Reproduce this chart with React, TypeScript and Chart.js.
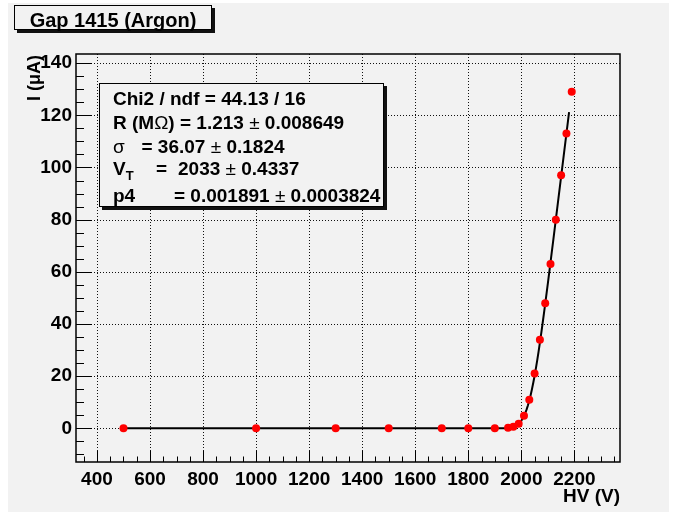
import React, { useEffect, useRef } from 'react';
import { Chart, registerables } from 'chart.js';

Chart.register(...registerables);

// Measured points: high voltage (V) and current (µA)
const hvVolts = [500, 1000, 1300, 1500, 1700, 1800, 1900, 1950, 1970, 1990, 2010, 2030, 2050, 2070, 2090, 2110, 2130, 2150, 2170, 2190];
const currentMicroAmp = [0, 0, 0, 0, 0, 0, 0, 0.2, 0.6, 1.8, 4.8, 11, 21, 34, 48, 63, 80, 97, 113, 129];

// Fit result (gaussian-smeared ohmic turn-on)
const fitR = 1.213; // MΩ
const fitSigma = 36.07;
const fitVT = 2033;
const fitP4 = 0.001891;
const fitRangeVolts = [500, 2180];
const fitStepVolts = 5;

// Stats box text
const statChi2 = '44.13';
const statNdf = '16';
const statR = ['1.213', '0.008649'];
const statSigma = ['36.07', '0.1824'];
const statVT = ['2033', '0.4337'];
const statP4 = ['0.001891', '0.0003824'];

// Axes
const xRange = [321, 2372];
const yRange = [-12.9, 143.5];
const xMajorTicks = [400, 600, 800, 1000, 1200, 1400, 1600, 1800, 2000, 2200];
const yMajorTicks = [0, 20, 40, 60, 80, 100, 120, 140];
const xMinorTicks = [350, 450, 500, 550, 650, 700, 750, 850, 900, 950, 1050, 1100, 1150, 1250, 1300, 1350, 1450, 1500, 1550, 1650, 1700, 1750, 1850, 1900, 1950, 2050, 2100, 2150, 2250, 2300, 2350];
const yMinorTicks = [-10, -5, 5, 10, 15, 25, 30, 35, 45, 50, 55, 65, 70, 75, 85, 90, 95, 105, 110, 115, 125, 130, 135];

const titleText = 'Gap 1415 (Argon)';
const xTitle = 'HV (V)';
const yTitle = 'I (\u03bcA)';

const FONT = '"Liberation Sans", Arial, Helvetica, sans-serif';
const BG = '#f2f2f2';

function erf(x: number): number {
  const s = x < 0 ? -1 : 1;
  const a = Math.abs(x);
  const t = 1 / (1 + 0.3275911 * a);
  const y = 1 - (((((1.061405429 * t - 1.453152027) * t) + 1.421413741) * t - 0.284496736) * t + 0.254829592) * t * Math.exp(-a * a);
  return s * y;
}

function fitCurrent(v: number): number {
  const d = v - fitVT;
  const z = d / fitSigma;
  const cdf = 0.5 * (1 + erf(z / Math.SQRT2));
  const pdf = Math.exp(-0.5 * z * z) / Math.sqrt(2 * Math.PI);
  return fitP4 + (d * cdf + fitSigma * pdf) / fitR;
}

function fitPoints() {
  const pts: { x: number; y: number }[] = [];
  for (let v = fitRangeVolts[0]; v <= fitRangeVolts[1] + 1e-9; v += fitStepVolts) {
    pts.push({ x: v, y: fitCurrent(v) });
  }
  return pts;
}

type Run = { t: string; bold?: boolean; size?: number; dy?: number };

function drawRuns(ctx: CanvasRenderingContext2D, x: number, y: number, runs: Run[], size: number) {
  let cx = x;
  for (const r of runs) {
    const sz = r.size ?? size;
    ctx.font = `${r.bold === false ? 'normal' : 'bold'} ${sz}px ${FONT}`;
    ctx.fillText(r.t, cx, y + (r.dy ?? 0));
    cx += ctx.measureText(r.t).width;
  }
}

function boxWithShadow(ctx: CanvasRenderingContext2D, x: number, y: number, w: number, h: number, sh: number) {
  ctx.fillStyle = '#111';
  ctx.fillRect(x + sh, y + sh, w, h);
  ctx.fillStyle = BG;
  ctx.fillRect(x, y, w, h);
  ctx.strokeStyle = '#000';
  ctx.lineWidth = 1;
  ctx.strokeRect(x + 0.5, y + 0.5, w - 1, h - 1);
}

const backgroundPlugin = {
  id: 'padBackground',
  beforeDraw(chart: any) {
    const ctx = chart.ctx as CanvasRenderingContext2D;
    ctx.save();
    ctx.fillStyle = '#ffffff';
    ctx.fillRect(0, 0, chart.width, chart.height);
    ctx.fillStyle = BG;
    ctx.fillRect(8, 3, 661, chart.height - 3);
    ctx.restore();
  },
};

const framePlugin = {
  id: 'frameAndTicks',
  beforeDatasetsDraw(chart: any) {
    const ctx = chart.ctx as CanvasRenderingContext2D;
    const { left, right, top, bottom } = chart.chartArea;
    const xs = chart.scales.x;
    const ys = chart.scales.y;
    ctx.save();
    // dotted grid
    ctx.strokeStyle = '#111';
    ctx.lineWidth = 1;
    ctx.setLineDash([1, 2]);
    for (const v of xMajorTicks) {
      const px = Math.round(xs.getPixelForValue(v)) + 0.5;
      ctx.beginPath();
      ctx.moveTo(px, top);
      ctx.lineTo(px, bottom);
      ctx.stroke();
    }
    for (const v of yMajorTicks) {
      const py = Math.round(ys.getPixelForValue(v)) + 0.5;
      ctx.beginPath();
      ctx.moveTo(left, py);
      ctx.lineTo(right, py);
      ctx.stroke();
    }
    ctx.setLineDash([]);
    // tick marks
    ctx.strokeStyle = '#000';
    ctx.lineWidth = 1;
    const ln = (x1: number, y1: number, x2: number, y2: number) => {
      ctx.beginPath();
      ctx.moveTo(x1, y1);
      ctx.lineTo(x2, y2);
      ctx.stroke();
    };
    for (const v of xMajorTicks) {
      const px = Math.round(xs.getPixelForValue(v)) + 0.5;
      ln(px, bottom, px, bottom - 11);
    }
    for (const v of xMinorTicks) {
      const px = Math.round(xs.getPixelForValue(v)) + 0.5;
      ln(px, bottom, px, bottom - 5.5);
    }
    for (const v of yMajorTicks) {
      const py = Math.round(ys.getPixelForValue(v)) + 0.5;
      ln(left, py, left + 16, py);
    }
    for (const v of yMinorTicks) {
      const py = Math.round(ys.getPixelForValue(v)) + 0.5;
      ln(left, py, left + 8, py);
    }
    // frame
    ctx.lineWidth = 1.5;
    ctx.strokeRect(left, top, right - left, bottom - top);
    ctx.restore();
  },
};

const overlayPlugin = {
  id: 'overlayText',
  afterDraw(chart: any) {
    const ctx = chart.ctx as CanvasRenderingContext2D;
    const { right, top } = chart.chartArea;
    ctx.save();

    // title box
    boxWithShadow(ctx, 14, 5, 198, 25, 3);
    ctx.fillStyle = '#000';
    ctx.font = `bold 20px ${FONT}`;
    ctx.textAlign = 'center';
    ctx.textBaseline = 'alphabetic';
    ctx.fillText(titleText, 113, 27);

    // stats box
    boxWithShadow(ctx, 99, 83, 285, 124, 3);
    ctx.fillStyle = '#000';
    ctx.textAlign = 'left';
    const fs = 19;
    drawRuns(ctx, 113, 105, [{ t: `Chi2 / ndf = ${statChi2} / ${statNdf}` }], fs);
    drawRuns(ctx, 113, 129, [
      { t: 'R (M' }, { t: '\u03a9', bold: false }, { t: `) = ${statR[0]} ` }, { t: '\u00b1', bold: false }, { t: ` ${statR[1]}` },
    ], fs);
    drawRuns(ctx, 113, 152.5, [{ t: '\u03c3', bold: false }], fs);
    drawRuns(ctx, 141.5, 152.5, [{ t: `= ${statSigma[0]} ` }, { t: '\u00b1', bold: false }, { t: ` ${statSigma[1]}` }], fs);
    drawRuns(ctx, 113, 175, [{ t: 'V' }, { t: 'T', size: 13, dy: 5 }], fs);
    drawRuns(ctx, 156, 175, [{ t: '=' }], fs);
    drawRuns(ctx, 178, 175, [{ t: `${statVT[0]} ` }, { t: '\u00b1', bold: false }, { t: ` ${statVT[1]}` }], fs);
    drawRuns(ctx, 113, 201.5, [{ t: 'p4' }], fs);
    drawRuns(ctx, 174, 201.5, [{ t: `= ${statP4[0]} ` }, { t: '\u00b1', bold: false }, { t: ` ${statP4[1]}` }], fs);

    // axis titles
    ctx.font = `bold 19px ${FONT}`;
    ctx.textAlign = 'right';
    ctx.fillText(xTitle, right, 502);
    ctx.save();
    ctx.translate(40, top + 1);
    ctx.rotate(-Math.PI / 2);
    ctx.font = `bold 18px ${FONT}`;
    ctx.textAlign = 'right';
    ctx.fillText(yTitle, 0, 0);
    ctx.restore();

    ctx.restore();
  },
};

export default function App() {
  const ref = useRef<HTMLCanvasElement | null>(null);

  useEffect(() => {
    document.body.style.margin = '0';
    const canvas = ref.current;
    if (!canvas) return;
    const tickFont = { family: FONT, size: 19, weight: 'bold' as const };
    const plainLabel = (v: any) => String(v);
    const chart = new Chart(canvas, {
      type: 'scatter',
      data: {
        datasets: [
          {
            label: 'data',
            data: hvVolts.map((v, i) => ({ x: v, y: currentMicroAmp[i] })),
            backgroundColor: '#ff0000',
            borderWidth: 0,
            pointRadius: 4,
            pointHoverRadius: 4,
            showLine: false,
          },
          {
            label: 'fit',
            data: fitPoints(),
            borderColor: '#000000',
            borderWidth: 2,
            pointRadius: 0,
            showLine: true,
            tension: 0,
          },
        ],
      },
      options: {
        animation: false,
        responsive: false,
        maintainAspectRatio: false,
        events: [],
        layout: { padding: { left: 0, top: 54, right: 54, bottom: 0 } },
        plugins: {
          legend: { display: false },
          tooltip: { enabled: false },
          title: { display: false },
        },
        scales: {
          x: {
            type: 'linear',
            min: xRange[0],
            max: xRange[1],
            afterFit: (s: any) => { s.height = 50; },
            afterBuildTicks: (s: any) => { s.ticks = xMajorTicks.map((v) => ({ value: v })); },
            grid: { display: false, drawTicks: false },
            border: { display: false },
            ticks: { font: tickFont, color: '#000', padding: 6, maxRotation: 0, autoSkip: false, callback: plainLabel },
          },
          y: {
            type: 'linear',
            min: yRange[0],
            max: yRange[1],
            afterFit: (s: any) => { s.width = 76; },
            afterBuildTicks: (s: any) => { s.ticks = yMajorTicks.map((v) => ({ value: v })); },
            grid: { display: false, drawTicks: false },
            border: { display: false },
            ticks: { font: tickFont, color: '#000', padding: 4, autoSkip: false, callback: plainLabel },
          },
        },
      },
      plugins: [backgroundPlugin, framePlugin, overlayPlugin],
    });
    return () => chart.destroy();
  }, []);

  return (
    <div style={{ width: 674, height: 512 }}>
      <canvas ref={ref} width={674} height={512} style={{ display: 'block', width: 674, height: 512 }} />
    </div>
  );
}
